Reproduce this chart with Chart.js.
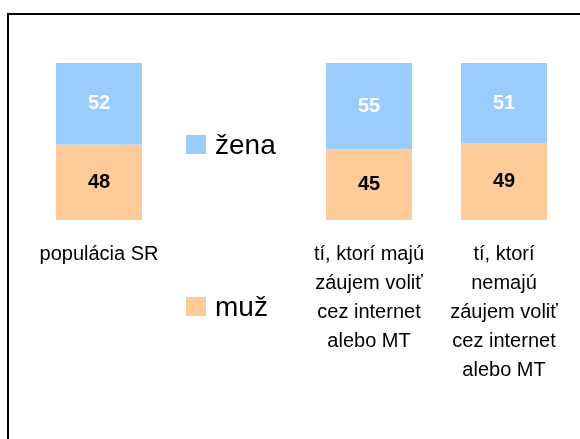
<!DOCTYPE html>
<html lang="sk">
<head>
<meta charset="utf-8">
<title>žena / muž</title>
<script src="https://cdn.jsdelivr.net/npm/chart.js@4.4.0/dist/chart.umd.min.js"></script>
<style>
  html, body { margin: 0; padding: 0; background: #fff; overflow: hidden; }
  #wrap { position: relative; width: 580px; height: 439px; }
  #frame {
    position: absolute; left: 7px; top: 13px; width: 700px; height: 600px;
    border-left: 2px solid #000; border-top: 2px solid #000;
  }
  #chart { position: absolute; left: 0; top: 0; }
</style>
</head>
<body>
<div id="wrap">
  <div id="frame"></div>
  <canvas id="chart" width="580" height="439"></canvas>
</div>
<script>
// Kategórie (druhá je prázdna - tam sedí legenda)
const categories = [
  'populácia SR',
  '',
  ['tí, ktorí majú', 'záujem voliť', 'cez internet', 'alebo MT'],
  ['tí, ktorí', 'nemajú', 'záujem voliť', 'cez internet', 'alebo MT']
];
const muzValues = [48, null, 45, 49];
const zenaValues = [52, null, 55, 51];

const FONT = '"Liberation Sans", Arial, sans-serif';
const TICK_PAD = 20;
const LINE_H = 29;

// Hodnoty v strede segmentov
const valueLabels = {
  id: 'valueLabels',
  afterDatasetsDraw(chart) {
    const ctx = chart.ctx;
    ctx.save();
    ctx.font = 'bold 20px ' + FONT;
    ctx.textAlign = 'center';
    ctx.textBaseline = 'middle';
    chart.data.datasets.forEach(function(ds, i) {
      const meta = chart.getDatasetMeta(i);
      meta.data.forEach(function(bar, j) {
        const v = ds.data[j];
        if (v === null || v === undefined) return;
        const p = bar.getCenterPoint();
        ctx.fillStyle = ds.valueColor;
        ctx.fillText(String(v), p.x, p.y);
      });
    });
    ctx.restore();
  }
};

// Legenda v prázdnej kategórii
const sideLegend = {
  id: 'sideLegend',
  afterDraw(chart) {
    const ctx = chart.ctx;
    const cx = chart.scales.x.getPixelForValue(1);
    const rows = [
      { ds: chart.data.datasets[1], baseline: 154 },
      { ds: chart.data.datasets[0], baseline: 316 }
    ];
    ctx.save();
    ctx.font = '28px ' + FONT;
    ctx.textAlign = 'left';
    ctx.textBaseline = 'alphabetic';
    rows.forEach(function(r) {
      ctx.fillStyle = r.ds.backgroundColor;
      ctx.fillRect(Math.round(cx - 48), r.baseline - 19, 20, 19);
      ctx.fillStyle = '#000';
      ctx.fillText(r.ds.label, cx - 19, r.baseline);
    });
    ctx.restore();
  }
};

const chart = new Chart(document.getElementById('chart').getContext('2d'), {
  type: 'bar',
  data: {
    labels: categories,
    datasets: [
      {
        label: 'muž',
        data: muzValues,
        backgroundColor: '#FFCC99',
        valueColor: '#000000',
        borderWidth: 0,
        barPercentage: 0.637,
        categoryPercentage: 1
      },
      {
        label: 'žena',
        data: zenaValues,
        backgroundColor: '#99CCFF',
        valueColor: '#FFFFFF',
        borderWidth: 0,
        barPercentage: 0.637,
        categoryPercentage: 1
      }
    ]
  },
  options: {
    responsive: false,
    animation: false,
    devicePixelRatio: 1,
    layout: { padding: { top: 63, bottom: 34, left: 31.5, right: 8.5 } },
    plugins: {
      legend: { display: false },
      tooltip: { enabled: false }
    },
    scales: {
      x: {
        stacked: true,
        grid: { display: false, drawTicks: false },
        border: { display: false },
        // os by inak bola orezaná na polovicu výšky
        afterFit: function(scale) {
          scale.height = TICK_PAD * 2 + LINE_H * 5;
        },
        ticks: {
          color: '#000',
          padding: TICK_PAD,
          maxRotation: 0,
          autoSkip: false,
          font: { family: FONT, size: 20, lineHeight: LINE_H / 20 }
        }
      },
      y: {
        stacked: true,
        display: false,
        min: 0,
        max: 100
      }
    }
  },
  plugins: [valueLabels, sideLegend]
});
</script>
</body>
</html>
